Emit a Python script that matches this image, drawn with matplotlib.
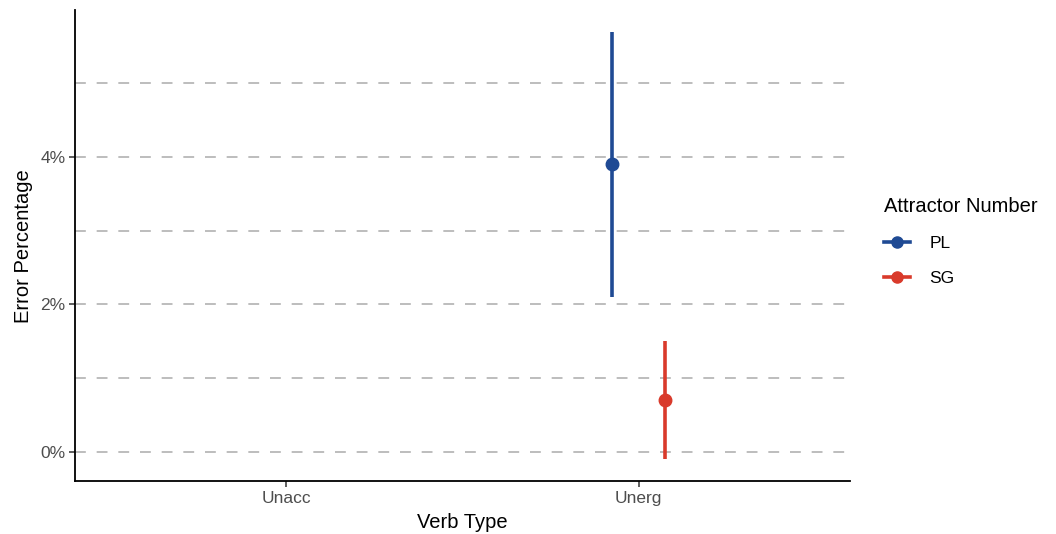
import matplotlib.pyplot as plt
import numpy as np
from matplotlib.lines import Line2D
from matplotlib.ticker import FuncFormatter

plt.rcParams['font.family'] = ['Liberation Sans', 'DejaVu Sans']

# data (percent); Unacc has no estimates
verb_types = ['Unacc', 'Unerg']
groups = ['PL', 'SG']
pl_mean = [np.nan, 3.9]
pl_low = [np.nan, 2.1]
pl_high = [np.nan, 5.7]
sg_mean = [np.nan, 0.7]
sg_low = [np.nan, -0.1]
sg_high = [np.nan, 1.5]

colors = {'PL': '#1f4a94', 'SG': '#d93a2b'}
dodge = {'PL': -0.075, 'SG': 0.075}

fig = plt.figure(figsize=(10.56, 5.34), dpi=100)
ax = fig.add_axes([0.071, 0.099, 0.734, 0.882])

x = np.arange(1, len(verb_types) + 1)

# dashed horizontal grid
for yv in range(0, 6):
    ax.axhline(yv, color='#b8b8b8', lw=1.3, ls=(0, (6, 6)), zorder=0)

series = {'PL': (pl_mean, pl_low, pl_high), 'SG': (sg_mean, sg_low, sg_high)}
for g in groups:
    m, lo, hi = series[g]
    xs = x + dodge[g]
    ax.vlines(xs, lo, hi, color=colors[g], lw=2.6, zorder=2)
    ax.plot(xs, m, 'o', color=colors[g], ms=9, zorder=3)

ax.set_xlim(0.4, 2.6)
ax.set_ylim(-0.4, 5.99)
ax.set_xticks(x)
ax.set_xticklabels(verb_types)
ax.set_yticks([0, 2, 4])
ax.yaxis.set_major_formatter(FuncFormatter(lambda v, p: f'{v:.0f}%'))

for s in ['top', 'right']:
    ax.spines[s].set_visible(False)
for s in ['left', 'bottom']:
    ax.spines[s].set_linewidth(1.3)
    ax.spines[s].set_color('black')

ax.tick_params(axis='both', labelsize=12.5, labelcolor='#4d4d4d', color='#333333',
               length=4, width=1.1, pad=3)
ax.set_xlabel('Verb Type', fontsize=14.5, labelpad=5.5)
ax.set_ylabel('Error Percentage', fontsize=14.5, labelpad=5)

handles = [Line2D([0], [0], color=colors[g], lw=2.6, marker='o', ms=8) for g in groups]
leg = fig.legend(handles, groups, title='Attractor Number', loc='upper left',
                 bbox_to_anchor=(0.822, 0.66), frameon=False, fontsize=12.5,
                 title_fontsize=14.5, handlelength=1.5, handletextpad=1.15,
                 labelspacing=1.15, alignment='left')

fig.savefig('out.png', dpi=100)
